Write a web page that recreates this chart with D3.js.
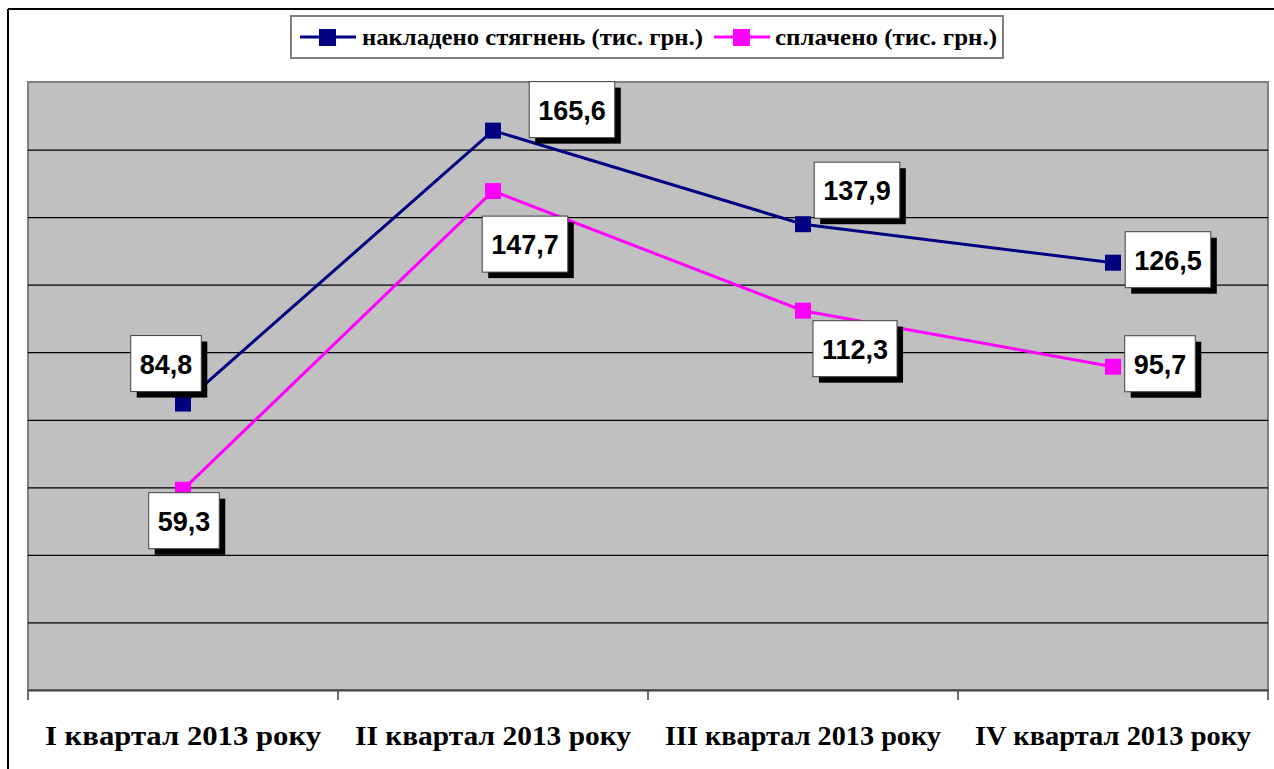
<!DOCTYPE html>
<html><head><meta charset="utf-8">
<script src="https://cdn.jsdelivr.net/npm/d3@7"></script>
<style>html,body{margin:0;padding:0;background:#fff;}svg{display:block;}</style>
</head><body>
<svg id="c" width="1274" height="769"></svg>
<script>
const categories = ["I квартал 2013 року", "II квартал 2013 року", "III квартал 2013 року", "IV квартал 2013 року"];
const imposed = [84.8, 165.6, 137.9, 126.5];
const paid = [59.3, 147.7, 112.3, 95.7];
const seriesNames = ["накладено стягнень (тис. грн.)", "сплачено (тис. грн.)"];
const yTicks = [0, 20, 40, 60, 80, 100, 120, 140, 160, 180];
// label box offsets relative to marker (layout only)
const imposedLabelOffset = [[-17, -40], [79, -21], [54, -34], [55, -3]];
const paidLabelOffset = [[1, 31], [32, 53], [52, 38], [47, -3]];

const svg = d3.select("#c");
const colors = ["#000080", "#FF00FF"];
const L = 28, R = 1268, T = 82, B = 690;

// outer frame lines
svg.append("line").attr("x1", 8).attr("x2", 1274).attr("y1", 9).attr("y2", 9).attr("stroke", "#000").attr("stroke-width", 2);
svg.append("line").attr("x1", 8).attr("x2", 8).attr("y1", 9).attr("y2", 769).attr("stroke", "#000").attr("stroke-width", 2);

const x = d3.scaleBand().domain(categories).range([L, R]).padding(0);
const y = d3.scaleLinear().domain([0, 180]).range([B, T]);

svg.append("rect").attr("x", L).attr("y", T).attr("width", R - L).attr("height", B - T)
  .attr("fill", "#C0C0C0").attr("stroke", "#808080").attr("stroke-width", 2);

// gridlines
const grid = d3.axisLeft(y).tickValues(yTicks.filter(v => v > 0 && v < 180)).tickSize(-(R - L)).tickFormat("");
svg.append("g").attr("transform", `translate(${L},0)`).call(grid)
  .call(g => g.select(".domain").remove())
  .selectAll("line").attr("stroke", "#000").attr("stroke-width", 1.2);

// x axis
const xAxis = svg.append("g").attr("transform", `translate(0,${B})`)
  .call(d3.axisBottom(x).tickSize(0).tickFormat(""));
xAxis.select(".domain").attr("stroke", "#404040").attr("stroke-width", 2);
// tick marks at band boundaries
const bounds = categories.map(c => x(c)).concat([R]);
svg.append("g").selectAll("line").data(bounds).join("line")
  .attr("x1", d => d).attr("x2", d => d).attr("y1", B).attr("y2", B + 10)
  .attr("stroke", "#404040").attr("stroke-width", 1.5);
svg.append("g").selectAll("text").data(categories).join("text")
  .attr("x", d => x(d) + x.bandwidth() / 2).attr("y", 745)
  .attr("text-anchor", "middle")
  .attr("font-family", "Liberation Serif, Times New Roman, serif")
  .attr("font-weight", "bold").attr("font-size", 28)
  .attr("textLength", 276).attr("lengthAdjust", "spacingAndGlyphs")
  .text(d => d);

const cx = c => x(c) + x.bandwidth() / 2;
const line = d3.line().x((d, i) => cx(categories[i])).y(d => y(d));
[imposed, paid].forEach((s, k) => {
  svg.append("path").datum(s).attr("d", line).attr("fill", "none")
    .attr("stroke", colors[k]).attr("stroke-width", 3);
  svg.append("g").selectAll("rect").data(s).join("rect")
    .attr("x", (d, i) => cx(categories[i]) - 8).attr("y", d => y(d) - 8)
    .attr("width", 16).attr("height", 16).attr("fill", colors[k]);
});

// data labels
function labels(s, offs) {
  s.forEach((v, i) => {
    const mx = cx(categories[i]), my = y(v);
    const lx = mx + offs[i][0], ly = my + offs[i][1];
    const txt = d3.format(".1f")(v).replace(".", ",");
    const g = svg.append("g");
    const t = g.append("text").attr("x", lx).attr("y", ly + 10).attr("text-anchor", "middle")
      .attr("font-family", "Liberation Sans, Arial, sans-serif").attr("font-weight", "bold")
      .attr("font-size", 27).text(txt);
    const bw = t.node().getBBox().width + 18, bh = 56;
    g.insert("rect", "text").attr("x", lx - bw / 2 + 6).attr("y", ly - bh / 2 + 6).attr("width", bw).attr("height", bh).attr("fill", "#000");
    g.insert("rect", "text").attr("x", lx - bw / 2).attr("y", ly - bh / 2).attr("width", bw).attr("height", bh)
      .attr("fill", "#fff").attr("stroke", "#404040").attr("stroke-width", 1);
  });
}
labels(imposed, imposedLabelOffset);
labels(paid, paidLabelOffset);

// legend
const lg = svg.append("g");
lg.append("rect").attr("x", 291).attr("y", 16).attr("width", 712).attr("height", 42)
  .attr("fill", "#fff").attr("stroke", "#808080").attr("stroke-width", 2);
const legendItems = [{x: 300, tx: 362, tw: 341}, {x: 714, tx: 775, tw: 222}];
seriesNames.forEach((n, k) => {
  const it = legendItems[k];
  lg.append("line").attr("x1", it.x).attr("x2", it.x + 56).attr("y1", 37).attr("y2", 37)
    .attr("stroke", colors[k]).attr("stroke-width", 3);
  lg.append("rect").attr("x", it.x + 19).attr("y", 29).attr("width", 17).attr("height", 17).attr("fill", colors[k]);
  lg.append("text").attr("x", it.tx).attr("y", 45)
    .attr("font-family", "Liberation Serif, Times New Roman, serif").attr("font-weight", "bold")
    .attr("font-size", 24).attr("textLength", it.tw).attr("lengthAdjust", "spacingAndGlyphs").text(n);
});
</script>
</body></html>
